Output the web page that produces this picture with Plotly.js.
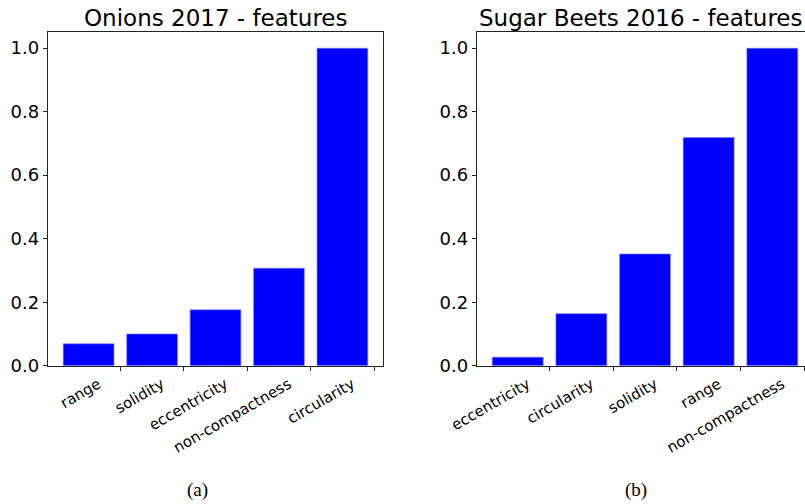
<!DOCTYPE html>
<html>
<head>
<meta charset="utf-8">
<script src="https://cdn.plot.ly/plotly-3.0.1.min.js"></script>
<style>html,body{margin:0;padding:0;background:#fff;}#chart{width:805px;height:504px;}</style>
</head>
<body>
<div id="chart"></div>
<script>
// ---- data ----
const onionsFeatures = ["range", "solidity", "eccentricity", "non-compactness", "circularity"];
const onionsValues   = [0.069, 0.100, 0.176, 0.307, 1.0];

const beetsFeatures  = ["eccentricity", "circularity", "solidity", "range", "non-compactness"];
const beetsValues    = [0.027, 0.164, 0.352, 0.719, 1.0];

const yTickVals = [0, 0.2, 0.4, 0.6, 0.8, 1.0];
const xTickPos  = [0.5, 1.5, 2.5, 3.5, 4.5];

const titleA = "Onions 2017 - features";
const titleB = "Sugar Beets 2016 - features";
const captionA = "(a)";
const captionB = "(b)";

// ---- style ----
const barColor = "#0000ff";
const tickFont = {family: "DejaVu Sans", size: 18, color: "#000"};
const xTickFont = {family: "DejaVu Sans", size: 15, color: "#000"};

const traces = [
  {type: "bar", x: onionsFeatures, y: onionsValues, width: 0.8,
   marker: {color: barColor, line: {color: "#7f7fff", width: 0.6}},
   xaxis: "x", yaxis: "y", hoverinfo: "skip"},
  {type: "bar", x: beetsFeatures, y: beetsValues, width: 0.8,
   marker: {color: barColor, line: {color: "#7f7fff", width: 0.6}},
   xaxis: "x2", yaxis: "y2", hoverinfo: "skip"}
];

function xAxis(domain, range, labels, anchor) {
  return {
    domain: domain, range: range, anchor: anchor, type: "category",
    tickmode: "array", tickvals: xTickPos, ticktext: labels,
    tickangle: -30, tickfont: xTickFont, ticklabelshift: -22, ticklabelstandoff: -1,
    ticks: "outside", ticklen: 4, tickcolor: "#222", tickwidth: 1,
    showline: true, linecolor: "#222", linewidth: 1.2, mirror: true,
    showgrid: false, zeroline: false, fixedrange: true
  };
}
function yAxis(domain, anchor, mirror) {
  return {
    domain: domain, range: [0, 1.05], anchor: anchor,
    tickmode: "array", tickvals: yTickVals, tickformat: ".1f",
    tickfont: tickFont, ticks: "outside", ticklen: 4, tickcolor: "#222", tickwidth: 1,
    showline: true, linecolor: "#222", linewidth: 1.2, mirror: mirror,
    showgrid: false, zeroline: false, fixedrange: true
  };
}

const yDom = [0.2744, 0.9359];
const layout = {
  width: 805, height: 504,
  margin: {l: 0, r: 0, t: 0, b: 0},
  paper_bgcolor: "#fff", plot_bgcolor: "#fff",
  showlegend: false,
  font: {family: "DejaVu Sans", color: "#000"},
  xaxis: xAxis([48/805, 383/805], [-0.64, 4.64], onionsFeatures, "y"),
  yaxis: yAxis(yDom, "x", true),
  xaxis2: xAxis([477/805, 1], [-0.64, 4.514], beetsFeatures, "y2"),
  yaxis2: yAxis(yDom, "x2", false),
  annotations: [
    {text: titleA, xref: "paper", yref: "paper", x: 215.5/805, y: 1 - 18/504,
     xanchor: "center", yanchor: "middle", showarrow: false,
     font: {family: "DejaVu Sans", size: 23, color: "#000"}},
    {text: titleB, xref: "paper", yref: "paper", x: 641/805, y: 1 - 18/504,
     xanchor: "center", yanchor: "middle", showarrow: false,
     font: {family: "DejaVu Sans", size: 23, color: "#000"}},
    {text: captionA, xref: "paper", yref: "paper", x: 197.5/805, y: 1 - 490/504,
     xanchor: "center", yanchor: "middle", showarrow: false,
     font: {family: "Liberation Serif", size: 19, color: "#000"}},
    {text: captionB, xref: "paper", yref: "paper", x: 636/805, y: 1 - 490/504,
     xanchor: "center", yanchor: "middle", showarrow: false,
     font: {family: "Liberation Serif", size: 19, color: "#000"}}
  ]
};

Plotly.newPlot("chart", traces, layout, {displayModeBar: false, staticPlot: true});
</script>
</body>
</html>
